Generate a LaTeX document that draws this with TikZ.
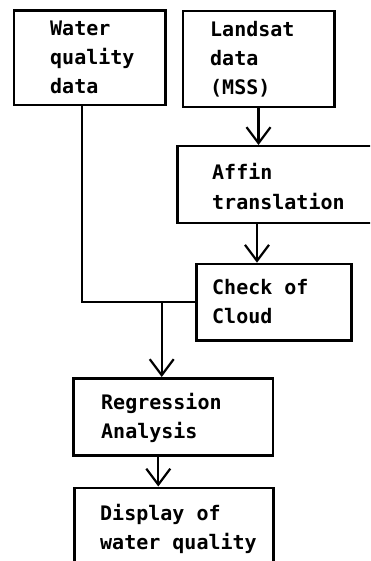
\documentclass[tikz,border=0pt]{standalone}
\usepackage{fontspec}
\newfontfamily\diagmono{DejaVu Sans Mono}
\newcommand\diagfont{\diagmono\bfseries\fontsize{20}{29}\selectfont}
\newcommand\txtlines[1]{\begin{tabular}[t]{@{}l@{}}#1\end{tabular}}
\usetikzlibrary{arrows.meta}
\begin{document}
\begin{tikzpicture}[x=1pt,y=-1pt,
  box/.style={draw, line width=2.5pt, rectangle, anchor=north west, inner sep=0pt},
  lbl/.style={anchor=base west, inner sep=0pt, font=\diagfont},
  conn/.style={line width=2.2pt},
  arr/.style={conn, -{Straight Barb[length=16pt,width=24pt,line width=2.2pt]}}]
\useasboundingbox (0,0) rectangle (370,561);
\clip (0,0) rectangle (370,561);
% boxes
\node[box, minimum width=151.3, minimum height=94.7] (water) at (12.7,9.3) {};
\node[box, minimum width=151.5, minimum height=96] (landsat) at (181.5,10) {};
\node[box, minimum width=224, minimum height=76.7] (affin) at (176,145) {};
\node[box, minimum width=155, minimum height=76.6] (check) at (195,262.7) {};
\node[box, minimum width=199.7, minimum height=77] (reg) at (72,377) {};
\node[box, minimum width=198.7, minimum height=113.5] (disp) at (73.3,486.5) {};
% texts
\node[lbl] (twater) at (50,36) {\txtlines{Water\\quality\\data}};
\node[lbl] (tlandsat) at (210,37) {\txtlines{Landsat\\data\\(MSS)}};
\node[lbl] (taffin) at (212,180) {\txtlines{Affin\\translation}};
\node[lbl] (tcheck) at (212,294) {\txtlines{Check of\\Cloud}};
\node[lbl] (treg) at (101,409) {\txtlines{Regression\\Analysis}};
\node[lbl] (tdisp) at (100,520) {\txtlines{Display of\\water quality}};
% connectors
\coordinate (wx) at (82,0);
\coordinate (ax) at (257,0);
\coordinate (jx) at (161.7,0);
\coordinate (rx) at (158.3,0);
\draw[arr] (landsat.south) -- (landsat.south |- affin.north);
\draw[arr] (affin.south -| ax) -- (check.north -| ax);
\draw[conn] (water.south -| wx) |- (check.west);
\coordinate (junc) at (check.west -| jx);
\draw[arr] (junc) -- (junc |- reg.north);
\draw[arr] (reg.south -| rx) -- (disp.north -| rx);
\end{tikzpicture}
\end{document}
